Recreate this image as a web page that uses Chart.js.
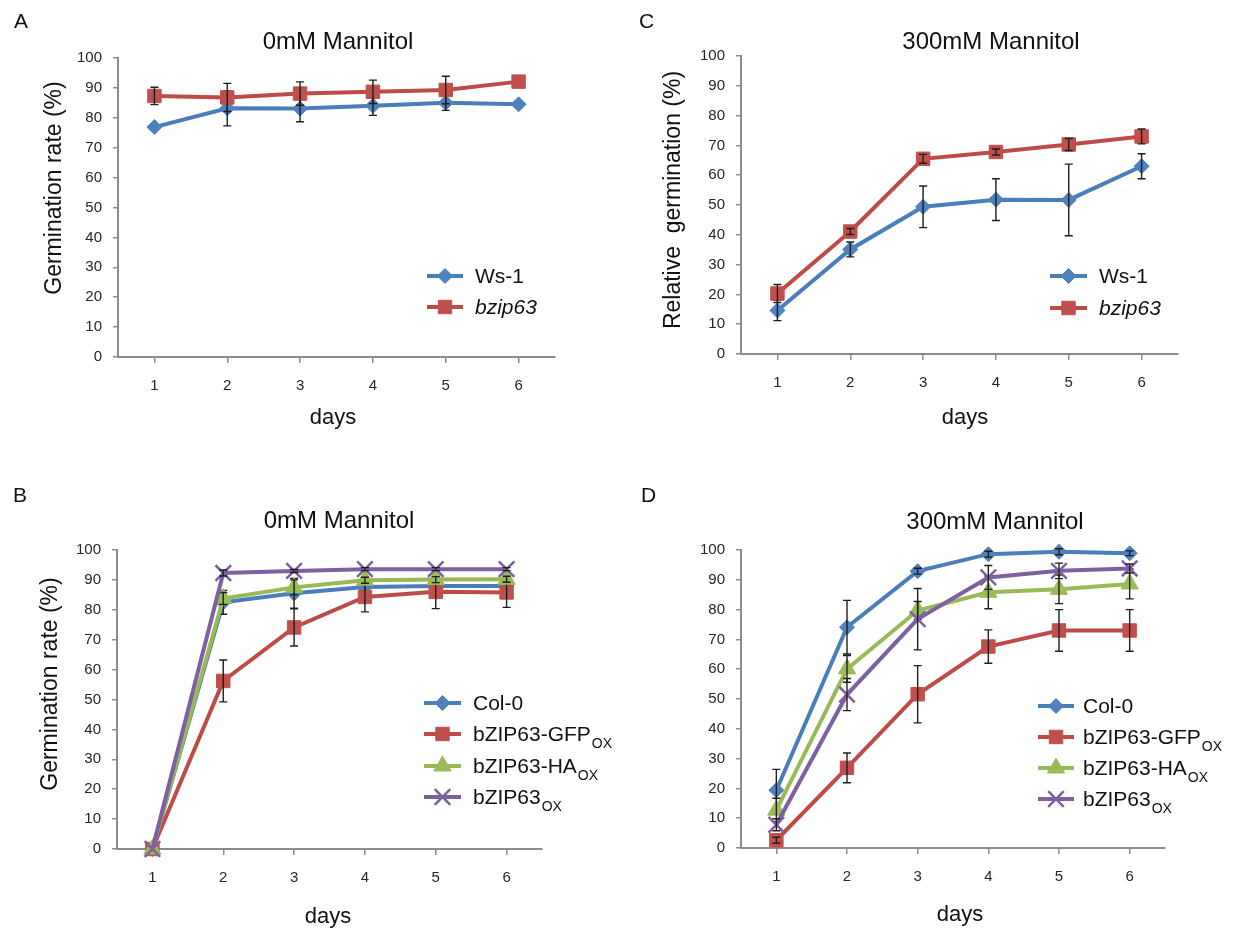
<!DOCTYPE html>
<html>
<head>
<meta charset="utf-8">
<script src="https://cdn.jsdelivr.net/npm/chart.js@4.4.0/dist/chart.umd.min.js"></script>
<style>
  html, body { margin: 0; padding: 0; background: #fff; }
  #page { position: relative; width: 1233px; height: 932px; overflow: hidden; }
  #page canvas { position: absolute; left: 0; top: 0; }
</style>
</head>
<body>
<div id="page">
  <canvas id="chart-a" width="1233" height="932"></canvas>
  <canvas id="chart-c" width="1233" height="932"></canvas>
  <canvas id="chart-b" width="1233" height="932"></canvas>
  <canvas id="chart-d" width="1233" height="932"></canvas>
</div>
<script>
// ---- data ----
const days = ["1", "2", "3", "4", "5", "6"];
const yTicks = [0, 10, 20, 30, 40, 50, 60, 70, 80, 90, 100];

// A: 0mM mannitol
const aWs1 = [76.9, 83.2, 83.1, 84.0, 85.0, 84.5];
const aWs1Err = [0, 5.9, 4.4, 3.2, 2.5, 0];
const aBzip = [87.3, 86.8, 88.1, 88.7, 89.3, 92.1];
const aBzipErr = [2.9, 4.7, 3.9, 3.9, 4.6, 0];

// C: 300mM mannitol
const cWs1 = [14.6, 35.1, 49.4, 51.8, 51.7, 63.0];
const cWs1Err = [3.4, 2.5, 7.0, 7.0, 12.0, 4.2];
const cBzip = [20.3, 41.1, 65.5, 67.8, 70.3, 73.0];
const cBzipErr = [3.0, 1.0, 1.5, 1.0, 2.0, 2.5];

// B: 0mM mannitol, overexpressors
const bCol = [0, 82.5, 85.5, 87.6, 88.0, 88.0];
const bColErr = [0, 4.0, 5.0, 2.0, 2.0, 2.0];
const bGfp = [0, 56.2, 74.1, 84.3, 86.0, 85.8];
const bGfpErr = [0, 7.0, 6.2, 5.0, 5.6, 5.0];
const bHa = [0, 83.8, 87.5, 89.9, 90.1, 90.2];
const bHaErr = [0, 2.0, 2.5, 1.0, 1.0, 1.0];
const bOx = [0, 92.3, 93.0, 93.6, 93.6, 93.6];
const bOxErr = [0, 1.0, 0.5, 0.5, 0.5, 0.5];

// D: 300mM mannitol, overexpressors
const dCol = [19.4, 74.1, 92.9, 98.6, 99.4, 98.9];
const dColErr = [7.0, 9.0, 1.0, 1.0, 1.0, 0.8];
const dGfp = [2.6, 26.9, 51.6, 67.6, 73.0, 73.0];
const dGfpErr = [1.0, 5.0, 9.6, 5.6, 7.0, 7.0];
const dHa = [12.7, 60.1, 79.7, 85.8, 86.8, 88.6];
const dHaErr = [4.0, 4.5, 3.0, 5.5, 4.8, 5.0];
const dOx = [7.8, 51.5, 76.8, 90.8, 93.0, 93.8];
const dOxErr = [2.0, 5.4, 10.3, 4.0, 2.6, 1.5];

// ---- styles ----
const FONT = "'Liberation Sans', Arial, sans-serif";
const AXIS = "#8c8c8c";
const TICK = "#262626";
const S = {
  blue:   { color: "#4a7ebb", fill: "#4f81bd", style: "rectRot", radius: 7.5, bw: 1 },
  red:    { color: "#be4b48", fill: "#c0504d", style: "rect", radius: 9.5, bw: 1 },
  green:  { color: "#98b954", fill: "#9bbb59", style: "triangle", radius: 10, bw: 1 },
  purple: { color: "#7d60a0", fill: "#8064a2", style: "crossRot", radius: 11, bw: 2.5 },
};

const W = 1233, H = 932;
const Y_W = 60, X_H = 50;

function series(label, data, errors, s, order) {
  return {
    label, data, errors,
    borderColor: s.color,
    backgroundColor: s.fill,
    borderWidth: 4,
    pointStyle: s.style,
    pointRadius: s.radius,
    pointBorderWidth: s.bw,
    pointBorderColor: s.style === "crossRot" ? s.color : s.fill,
    pointBackgroundColor: s.fill,
    tension: 0,
    clip: false,
    order,
    _s: s,
  };
}

// error bars drawn with each series, like the spreadsheet does
const errorBars = {
  id: "errorBars",
  afterDatasetDraw(chart, args) {
    const ds = chart.data.datasets[args.index];
    if (!ds.errors) return;
    const y = chart.scales.y;
    const ctx = chart.ctx;
    ctx.save();
    ctx.strokeStyle = "#1e1e1e";
    ctx.lineWidth = 1.4;
    args.meta.data.forEach((pt, i) => {
      const e = ds.errors[i];
      if (!e || e < 0.3) return;
      const top = y.getPixelForValue(ds.data[i] + e);
      const bot = y.getPixelForValue(ds.data[i] - e);
      ctx.beginPath();
      ctx.moveTo(pt.x, top); ctx.lineTo(pt.x, bot);
      ctx.moveTo(pt.x - 4, top); ctx.lineTo(pt.x + 4, top);
      ctx.moveTo(pt.x - 4, bot); ctx.lineTo(pt.x + 4, bot);
      ctx.stroke();
    });
    ctx.restore();
  },
};

function marker(ctx, s, x, y) {
  ctx.save();
  ctx.fillStyle = s.fill;
  ctx.strokeStyle = s.style === "crossRot" ? s.color : s.fill;
  ctx.lineWidth = s.bw;
  Chart.helpers.drawPoint(ctx, { pointStyle: s.style, radius: s.radius, borderWidth: s.bw, rotation: 0 }, x, y);
  ctx.restore();
}

// titles, axis labels, panel letter and legend
const decor = {
  id: "decor",
  afterDraw(chart, args, o) {
    const ctx = chart.ctx;
    ctx.save();
    ctx.fillStyle = "#111";
    ctx.textBaseline = "middle";
    ctx.textAlign = "left";
    ctx.font = `21px ${FONT}`;
    ctx.fillText(o.letter[0], o.letter[1], o.letter[2]);

    ctx.textAlign = "center";
    ctx.font = `24px ${FONT}`;
    ctx.fillText(o.title[0], o.title[1], o.title[2]);

    ctx.font = `22px ${FONT}`;
    ctx.fillText("days", o.xlabel[0], o.xlabel[1]);

    if (o.ylabel) {
      ctx.save();
      ctx.translate(o.ylabel[1], o.ylabel[2]);
      ctx.rotate(-Math.PI / 2);
      ctx.font = `23px ${FONT}`;
      ctx.fillText(o.ylabel[0], 0, 0);
      ctx.restore();
    }

    const lg = o.legend;
    chart.data.datasets.forEach((ds, i) => {
      const y = lg.ys[i];
      const s = ds._s;
      ctx.strokeStyle = s.color;
      ctx.lineWidth = 4;
      ctx.beginPath();
      ctx.moveTo(lg.x1, y); ctx.lineTo(lg.x2, y);
      ctx.stroke();
      marker(ctx, s, (lg.x1 + lg.x2) / 2, y);

      const item = lg.items[i];
      ctx.fillStyle = "#111";
      ctx.textAlign = "left";
      ctx.font = `${item.italic ? "italic " : ""}21px ${FONT}`;
      ctx.fillText(item.text, lg.tx, y + 1);
      if (item.sub) {
        const w = ctx.measureText(item.text).width;
        ctx.font = `14px ${FONT}`;
        ctx.fillText(item.sub, lg.tx + w + 1, y + 10);
      }
    });
    ctx.restore();
  },
};

function makeChart(id, datasets, area, deco) {
  const [L, T, R, B] = area;
  return new Chart(document.getElementById(id), {
    type: "line",
    data: { labels: days, datasets },
    options: {
      responsive: false,
      animation: false,
      events: [],
      layout: { padding: { left: L - Y_W, top: T, right: W - R, bottom: H - B - X_H } },
      plugins: { legend: { display: false }, tooltip: { enabled: false }, decor: deco },
      scales: {
        x: {
          offset: true,
          grid: { drawOnChartArea: false, offset: false, tickLength: 6, color: AXIS, lineWidth: 1.5 },
          border: { color: AXIS, width: 2 },
          ticks: { color: TICK, font: { family: FONT, size: 15 }, padding: 14, maxRotation: 0 },
          afterFit: (s) => { s.height = X_H; },
        },
        y: {
          min: yTicks[0], max: yTicks[yTicks.length - 1],
          afterBuildTicks: (s) => { s.ticks = yTicks.map((v) => ({ value: v })); },
          grid: { drawOnChartArea: false, tickLength: 5, color: AXIS, lineWidth: 1.5 },
          border: { color: AXIS, width: 2 },
          ticks: { color: TICK, font: { family: FONT, size: 15 }, padding: 11 },
          afterFit: (s) => { s.width = Y_W; },
        },
      },
    },
    plugins: [errorBars, decor],
  });
}

const wsItems = [{ text: "Ws-1" }, { text: "bzip63", italic: true }];
const oxItems = [
  { text: "Col-0" },
  { text: "bZIP63-GFP", sub: "OX" },
  { text: "bZIP63-HA", sub: "OX" },
  { text: "bZIP63", sub: "OX" },
];

makeChart("chart-a",
  [series("Ws-1", aWs1, aWs1Err, S.blue, 1), series("bzip63", aBzip, aBzipErr, S.red, 0)],
  [118, 58, 555, 357],
  {
    letter: ["A", 14, 22], title: ["0mM Mannitol", 338, 42],
    ylabel: ["Germination rate (%)", 55, 188], xlabel: [333, 418],
    legend: { x1: 427, x2: 463, tx: 475, ys: [276, 307], items: wsItems },
  });

makeChart("chart-c",
  [series("Ws-1", cWs1, cWs1Err, S.blue, 1), series("bzip63", cBzip, cBzipErr, S.red, 0)],
  [741, 56, 1178, 354],
  {
    letter: ["C", 639, 22], title: ["300mM Mannitol", 991, 42],
    ylabel: ["Relative  germination (%)", 674, 200], xlabel: [965, 418],
    legend: { x1: 1050, x2: 1087, tx: 1099, ys: [276, 308], items: wsItems },
  });

makeChart("chart-b",
  [
    series("Col-0", bCol, bColErr, S.blue, 3),
    series("bZIP63-GFP", bGfp, bGfpErr, S.red, 2),
    series("bZIP63-HA", bHa, bHaErr, S.green, 1),
    series("bZIP63", bOx, bOxErr, S.purple, 0),
  ],
  [117, 550, 542, 849],
  {
    letter: ["B", 13, 496], title: ["0mM Mannitol", 339, 521],
    ylabel: ["Germination rate (%)", 51, 684], xlabel: [328, 917],
    legend: { x1: 424, x2: 461, tx: 473, ys: [703, 734, 766, 797], items: oxItems },
  });

makeChart("chart-d",
  [
    series("Col-0", dCol, dColErr, S.blue, 3),
    series("bZIP63-GFP", dGfp, dGfpErr, S.red, 2),
    series("bZIP63-HA", dHa, dHaErr, S.green, 1),
    series("bZIP63", dOx, dOxErr, S.purple, 0),
  ],
  [741, 550, 1165, 848],
  {
    letter: ["D", 641, 496], title: ["300mM Mannitol", 995, 522],
    ylabel: null, xlabel: [960, 915],
    legend: { x1: 1038, x2: 1074, tx: 1083, ys: [706, 737, 768, 799], items: oxItems },
  });
</script>
</body>
</html>
